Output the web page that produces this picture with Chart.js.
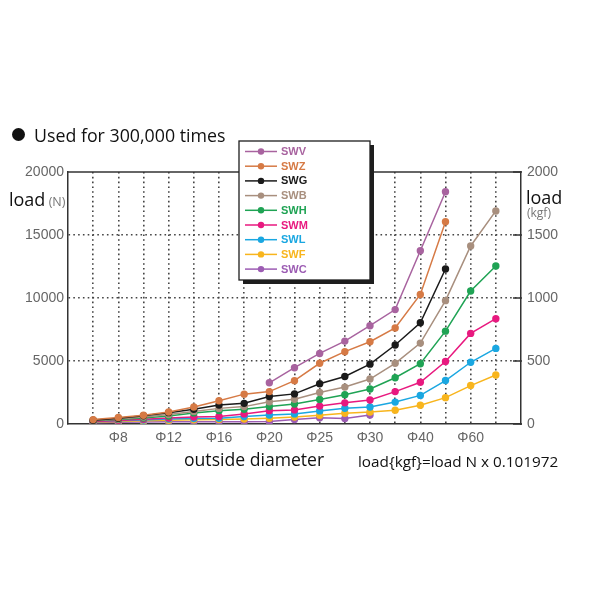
<!DOCTYPE html>
<html>
<head>
<meta charset="utf-8">
<script src="https://cdn.jsdelivr.net/npm/chart.js@4.4.0/dist/chart.umd.min.js"></script>
<style>
  body { margin: 0; background: #fff; }
  #wrap { position: relative; width: 600px; height: 600px; }
  .t { position: absolute; white-space: nowrap; font-family: "Open Sans", sans-serif; color: #111; line-height: 1; }
  .g { color: #777; }
  .dot { display: inline-block; width: 13px; height: 13px; border-radius: 50%; background: #111; vertical-align: 1px; margin-right: 9px; }
</style>
</head>
<body>
<div id="wrap">
  <canvas id="chart" width="600" height="600"></canvas>
  <div class="t" style="left:12px; top:127px; font-size:17.8px;"><span class="dot"></span>Used for 300,000 times</div>
  <div class="t" style="left:9px; top:190px; font-size:18px;">load<span class="g" style="font-size:12.5px;"> (N)</span></div>
  <div class="t" style="left:526px; top:188px; font-size:18px;">load</div>
  <div class="t g" style="left:527px; top:207px; font-size:12px;">(kgf)</div>
  <div class="t" style="left:184px; top:451px; font-size:17.6px;">outside diameter</div>
  <div class="t" style="left:358px; top:454px; font-size:15.3px;">load{kgf}=load N x 0.101972</div>
</div>
<script>
// outside diameter categories (only every other one is labelled)
const sizeLabels = ['', 'Φ8', '', 'Φ12', '', 'Φ16', '', 'Φ20', '', 'Φ25', '', 'Φ30', '', 'Φ40', '', 'Φ60', ''];

const seriesNames = ['SWV', 'SWZ', 'SWG', 'SWB', 'SWH', 'SWM', 'SWL', 'SWF', 'SWC'];
const seriesColors = ['#a8639f', '#d67a45', '#1a1a1a', '#a88f7e', '#1fa354', '#e8197f', '#1aa7e1', '#f8b51d', '#9c5cb3'];

// load (N)
const swv = [null, null, null, null, null, null, null, 3270, 4470, 5600, 6580, 7800, 9080, 13750, 18430, null, null];
const swz = [350, 520, 700, 950, 1350, 1850, 2370, 2570, 3440, 4820, 5740, 6530, 7620, 10280, 16050, null, null];
const swg = [300, 450, 650, 900, 1170, 1500, 1640, 2180, 2390, 3190, 3770, 4750, 6270, 8030, 12300, null, null];
const swb = [280, 400, 560, 750, 1000, 1240, 1380, 1770, 1960, 2500, 2930, 3570, 4820, 6420, 9790, 14130, 16910];
const swh = [250, 350, 480, 640, 880, 1060, 1170, 1390, 1590, 1950, 2330, 2780, 3670, 4780, 7370, 10550, 12540];
const swm = [200, 280, 380, 480, 560, 600, 800, 1060, 1120, 1420, 1680, 1900, 2570, 3310, 4960, 7190, 8355];
const swl = [180, 250, 320, 400, 430, 460, 600, 720, 800, 1040, 1250, 1350, 1740, 2270, 3450, 4900, 6000];
const swf = [150, 200, 250, 300, 330, 360, 400, 460, 560, 700, 850, 950, 1100, 1490, 2090, 3050, 3890];
const swc = [100, 130, 150, 170, 180, 180, 180, 190, 360, 500, 430, 710, null, null, null, null, null];

const seriesValues = [swv, swz, swg, swb, swh, swm, swl, swf, swc];

const leftTicks = [0, 5000, 10000, 15000, 20000];
const rightTicks = [0, 500, 1000, 1500, 2000];

const datasets = seriesNames.map((name, i) => ({
  label: name,
  data: seriesValues[i].map((v, j) => ({ x: j + 1, y: v })),
  borderColor: seriesColors[i],
  backgroundColor: seriesColors[i],
  pointBackgroundColor: seriesColors[i],
  pointBorderColor: seriesColors[i],
  borderWidth: 1.5,
  pointRadius: 3.7,
  pointBorderWidth: 0,
  spanGaps: false,
  yAxisID: 'y'
}));

const tickFont = { family: '"Liberation Sans", Arial, sans-serif', size: 14 };

// legend box drawn over the plot, plus frame bits chart.js has no option for
const legendBox = {
  id: 'legendBox',
  afterDraw(chart) {
    const ctx = chart.ctx;
    const area = chart.chartArea;
    ctx.save();
    // top frame line
    ctx.strokeStyle = '#333';
    ctx.lineWidth = 1.5;
    ctx.beginPath();
    ctx.moveTo(area.left, area.top);
    ctx.lineTo(area.right, area.top);
    ctx.stroke();
    // short inward ticks on the right axis
    const yr = chart.scales.y2;
    yr.ticks.forEach(t => {
      const py = yr.getPixelForValue(t.value);
      ctx.beginPath();
      ctx.moveTo(area.right - 8, py);
      ctx.lineTo(area.right + 1, py);
      ctx.stroke();
    });

    const x = 239, y = 141, w = 131, h = 139;
    ctx.fillStyle = '#1e1e1e';
    ctx.fillRect(x + 4, y + 4, w, h);
    ctx.fillStyle = '#fff';
    ctx.fillRect(x, y, w, h);
    ctx.strokeStyle = '#1e1e1e';
    ctx.lineWidth = 1.3;
    ctx.strokeRect(x, y, w, h);
    ctx.font = 'bold 11px "Liberation Sans", Arial, sans-serif';
    ctx.textBaseline = 'middle';
    chart.data.datasets.forEach((ds, i) => {
      const yy = y + 10.5 + i * 14.7;
      ctx.strokeStyle = ds.borderColor;
      ctx.lineWidth = 1.5;
      ctx.beginPath();
      ctx.moveTo(x + 6, yy);
      ctx.lineTo(x + 38, yy);
      ctx.stroke();
      ctx.fillStyle = ds.borderColor;
      ctx.beginPath();
      ctx.arc(x + 22, yy, 3.2, 0, Math.PI * 2);
      ctx.fill();
      ctx.fillText(ds.label, x + 42, yy + 0.5);
    });
    ctx.restore();
  }
};

new Chart(document.getElementById('chart'), {
  type: 'line',
  data: { datasets },
  options: {
    responsive: false,
    animation: false,
    layout: { padding: { top: 172, left: 0, right: 0, bottom: 0 } },
    plugins: { legend: { display: false }, tooltip: { enabled: false } },
    scales: {
      x: {
        type: 'linear',
        min: 0,
        max: sizeLabels.length + 1,
        afterFit: s => { s.height = 176; },
        afterBuildTicks: s => { s.ticks = sizeLabels.map((_, j) => ({ value: j + 1 })); },
        ticks: {
          autoSkip: false,
          maxRotation: 0,
          padding: 6,
          color: '#666',
          font: tickFont,
          callback: v => sizeLabels[v - 1] || ''
        },
        grid: { color: '#444', lineWidth: 1.6, drawTicks: false },
        border: { display: true, color: '#333', width: 1.5, dash: [1.6, 3.2] }
      },
      y: {
        position: 'left',
        min: 0,
        max: 20000,
        afterFit: s => { s.width = 68; },
        afterBuildTicks: s => { s.ticks = leftTicks.map(v => ({ value: v })); },
        ticks: { padding: 4, color: '#666', font: tickFont, callback: v => String(v) },
        grid: {
          color: c => (c.tick && c.tick.value > 0 && c.tick.value < 20000) ? '#444' : 'rgba(0,0,0,0)',
          lineWidth: 1.6,
          drawTicks: false
        },
        border: { display: true, color: '#333', width: 1.5, dash: [1.6, 3.2] }
      },
      y2: {
        position: 'right',
        min: 0,
        max: 2000,
        afterFit: s => { s.width = 79; },
        afterBuildTicks: s => { s.ticks = rightTicks.map(v => ({ value: v })); },
        ticks: { padding: 6, color: '#666', font: tickFont, callback: v => String(v) },
        grid: { drawOnChartArea: false, drawTicks: false },
        border: { display: true, color: '#333', width: 1.5 }
      }
    }
  },
  plugins: [legendBox]
});
</script>
</body>
</html>
